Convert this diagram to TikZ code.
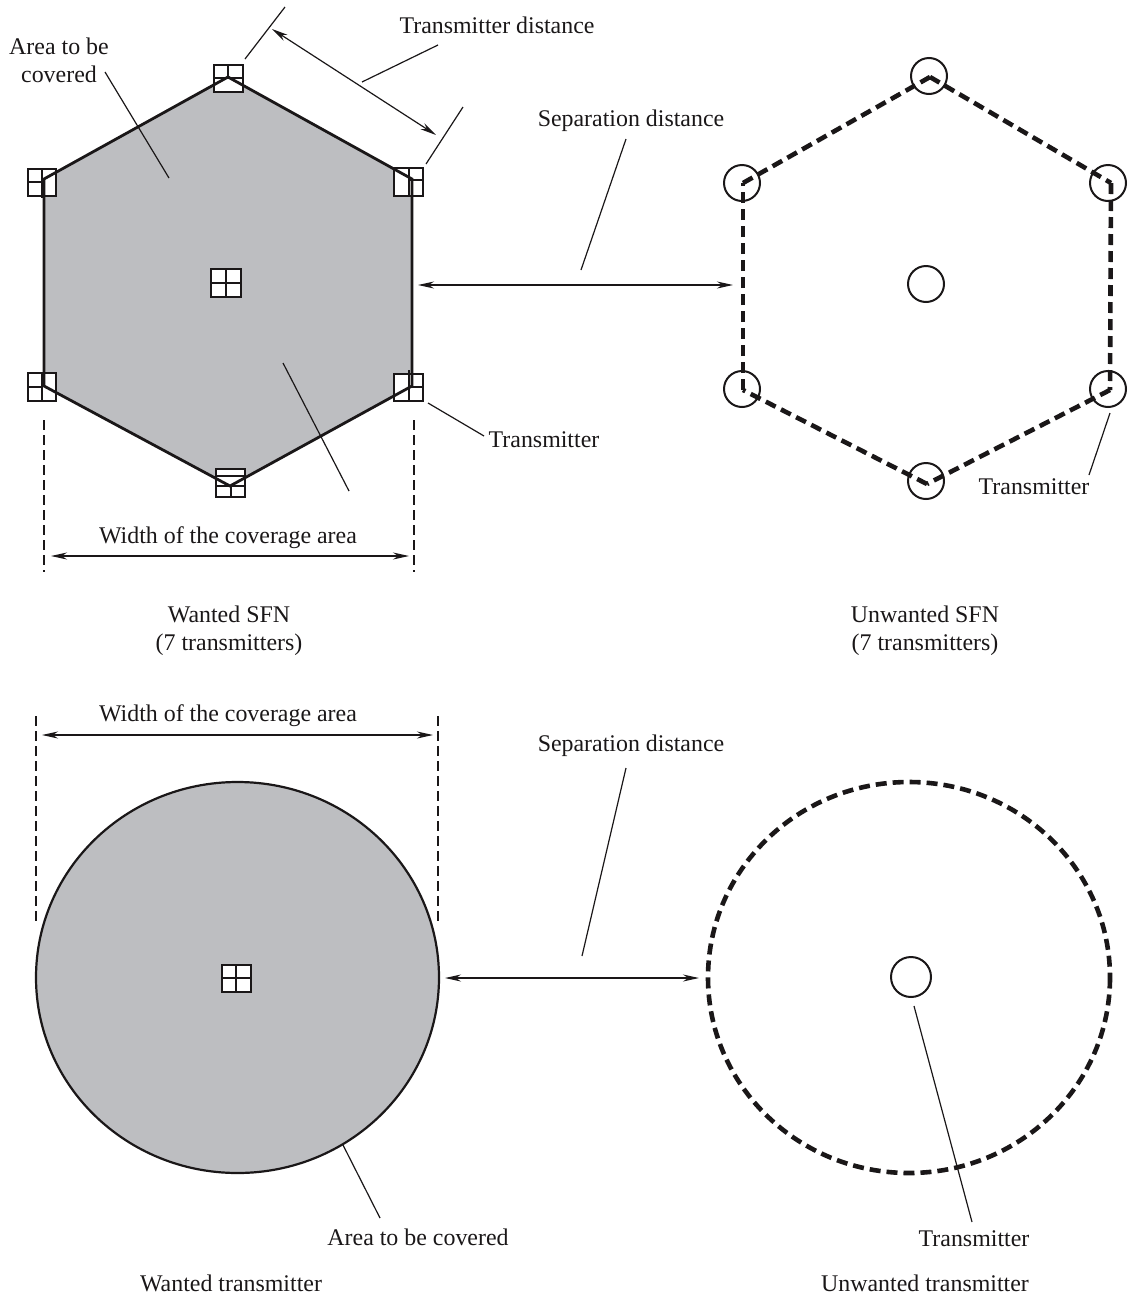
\documentclass[tikz,border=0pt]{standalone}
\usepackage{fontspec}
\setmainfont{Liberation Serif}
\usetikzlibrary{arrows.meta}
\definecolor{areagrey}{HTML}{BDBEC1}
\definecolor{ink}{HTML}{1A1718}
\tikzset{
  lbl/.style={anchor=base,inner sep=0pt,text=ink,font=\fontsize{23.9}{27}\selectfont,align=center},
  leader/.style={draw=ink,line width=1.2pt},
  dim/.style={draw=ink,line width=1.2pt,{Stealth[length=16pt,width=7pt]}-{Stealth[length=16pt,width=7pt]}},
  guide/.style={draw=ink,line width=1.5pt,dash pattern=on 10pt off 5pt},
  solidedge/.style={draw=ink,line width=2.8pt,line join=miter},
  dashedge/.style={draw=ink,line width=4.6pt,dash pattern=on 11pt off 6pt},
  grid/.style={draw=ink,line width=1.3pt},
  sq/.style={grid,fill=white},
  txc/.style={circle,draw=ink,line width=2pt,fill=none,inner sep=0pt,minimum size=36pt},
}
\begin{document}
\begin{tikzpicture}[x=1pt,y=-1pt]
\useasboundingbox (0,0) rectangle (1128,1299);
% --- wanted SFN ---
\coordinate (hT) at (228,77);
\coordinate (hRT) at (412,179);
\coordinate (hRB) at (412,386);
\coordinate (hB) at (230,486);
\coordinate (hLB) at (44,386);
\coordinate (hLT) at (44,179);
\fill[areagrey] (hT) -- (hRT) -- (hRB) -- (hB) -- (hLB) -- (hLT) -- cycle;
% transmitter squares
\draw[sq] (214,65) rectangle (243,92);
\draw[grid] (228,65) -- (228,78) (214,78) -- (243,78);
\draw[sq] (28,169) rectangle (56,196);
\draw[grid] (42,169) -- (42,198) (28,182) -- (42,182);
\draw[sq] (394,168) rectangle (423,196);
\draw[grid] (409,168) -- (409,196) (409,180) -- (423,180);
\draw[sq] (28,373) rectangle (56,401);
\draw[grid] (42,373) -- (42,401) (28,387) -- (42,387);
\draw[sq] (394,374) rectangle (423,401);
\draw[grid] (409,370) -- (409,401) (409,387) -- (423,387);
\draw[sq] (216,469) rectangle (245,497);
\draw[grid] (216,476) -- (245,476) (216,486) -- (245,486) (231,486) -- (231,497);
\draw[sq] (211,269) rectangle (241,297);
\draw[grid] (226,269) -- (226,297) (211,283) -- (241,283);
\draw[solidedge] (hT) -- (hRT) -- (hRB) -- (hB) -- (hLB) -- (hLT) -- cycle;
% labels
\node[lbl] (tdist) at (497,33) {Transmitter distance};
\node[lbl] (area1) at (59,54) {Area to be};
\node[lbl] (area2) at (59,82) {covered};
\node[lbl] (sep1) at (631,126) {Separation distance};
\node[lbl] (tx1) at (544,447) {Transmitter};
\node[lbl] (tx2) at (1034,494) {Transmitter};
\node[lbl] (w1) at (228,543) {Width of the coverage area};
\node[lbl] (c1a) at (229,622) {Wanted SFN};
\node[lbl] (c1b) at (229,650) {(7 transmitters)};
\node[lbl] (c2a) at (925,622) {Unwanted SFN};
\node[lbl] (c2b) at (925,650) {(7 transmitters)};
\node[lbl] (w2) at (228,721) {Width of the coverage area};
\node[lbl] (sep2) at (631,751) {Separation distance};
\node[lbl] (area3) at (418,1245) {Area to be covered};
\node[lbl] (tx3) at (974,1246) {Transmitter};
\node[lbl] (c3) at (231,1291) {Wanted transmitter};
\node[lbl] (c4) at (925,1291) {Unwanted transmitter};
% leaders of wanted SFN
\coordinate (a1) at (245,59); \coordinate (a2) at (285,7);
\coordinate (b1) at (426,164); \coordinate (b2) at (463,107);
\coordinate (d1) at (272,29); \coordinate (d2) at (436,135);
\coordinate (e1) at (362,82); \coordinate (e2) at (438,45);
\coordinate (f1) at (105,72); \coordinate (f2) at (169,178);
\coordinate (g1) at (283,363); \coordinate (g2) at (349,491);
\coordinate (h1) at (428,403); \coordinate (h2) at (484,436);
\draw[leader] (a1) -- (a2);
\draw[leader] (b1) -- (b2);
\draw[dim] (d1) -- (d2);
\draw[leader] (e1) -- (e2);
\draw[leader] (f1) -- (f2);
\draw[leader] (g1) -- (g2);
\draw[leader] (h1) -- (h2);
\coordinate (i1) at (44,420); \coordinate (i2) at (44,572);
\coordinate (j1) at (414,420); \coordinate (j2) at (414,572);
\draw[guide] (i1) -- (i2);
\draw[guide] (j1) -- (j2);
\coordinate (k1) at (51,556); \coordinate (k2) at (409,556);
\draw[dim] (k1) -- (k2);
\coordinate (l1) at (418,285); \coordinate (l2) at (733,285);
\draw[dim] (l1) -- (l2);
\coordinate (m1) at (581,270); \coordinate (m2) at (626,139);
\draw[leader] (m1) -- (m2);
% --- unwanted SFN ---
\coordinate (uT) at (930,77);
\coordinate (uRT) at (1111,183);
\coordinate (uRB) at (1110,390);
\coordinate (uB) at (927,484);
\coordinate (uLB) at (743,390);
\coordinate (uLT) at (743,183);
\draw[dashedge] (uT) -- (uRT);
\draw[dashedge] (uRT) -- (uRB);
\draw[dashedge] (uRB) -- (uB);
\draw[dashedge] (uB) -- (uLB);
\draw[dashedge] (uLB) -- (uLT);
\draw[dashedge] (uLT) -- (uT);
\node[txc] (t1) at (929,76) {};
\node[txc] (t2) at (1108,183) {};
\node[txc] (t3) at (1108,389) {};
\node[txc] (t4) at (926,481) {};
\node[txc] (t5) at (742,389) {};
\node[txc] (t6) at (742,183) {};
\node[txc] (t7) at (926,284) {};
\coordinate (n1) at (1110,413); \coordinate (n2) at (1089,475);
\draw[leader] (n1) -- (n2);
% --- wanted transmitter ---
\fill[areagrey] (237.5,977.5) ellipse [x radius=201.5,y radius=195.5];
\draw[draw=ink,line width=2.2pt] (237.5,977.5) ellipse [x radius=201.5,y radius=195.5];
\draw[sq] (222,965) rectangle (251,992);
\draw[grid] (236,965) -- (236,992) (222,978) -- (251,978);
\coordinate (o1) at (36,716); \coordinate (o2) at (36,922);
\coordinate (p1) at (438,716); \coordinate (p2) at (438,922);
\draw[guide] (o1) -- (o2);
\draw[guide] (p1) -- (p2);
\coordinate (q1) at (42,735); \coordinate (q2) at (433,735);
\draw[dim] (q1) -- (q2);
\coordinate (r1) at (445,978); \coordinate (r2) at (699,978);
\draw[dim] (r1) -- (r2);
\coordinate (s1) at (582,956); \coordinate (s2) at (626,768);
\draw[leader] (s1) -- (s2);
\coordinate (v1) at (343,1145); \coordinate (v2) at (380,1218);
\draw[leader] (v1) -- (v2);
% --- unwanted transmitter ---
\draw[dashedge] (909,977.5) ellipse [x radius=201,y radius=195.5];
\node[txc,minimum size=40pt] (t8) at (911,977) {};
\coordinate (w3) at (914,1006); \coordinate (w4) at (972,1222);
\draw[leader] (w3) -- (w4);
\end{tikzpicture}
\end{document}
